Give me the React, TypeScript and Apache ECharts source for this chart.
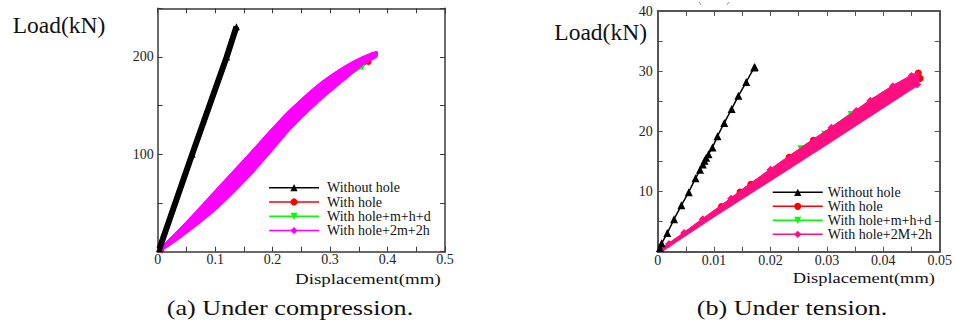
import React, { useEffect, useRef } from 'react';
import * as echarts from 'echarts';

const FONT = 'Liberation Serif';

// ---------- (a) Under compression ----------
const compNames = ['Without hole', 'With hole', 'With hole+m+h+d', 'With hole+2m+2h'];
const compWithoutHole: number[][] = [[0.003, 3], [0.06, 100], [0.12, 200], [0.137, 231]];
const compWithHole: number[][] = [[0.006, 1.5], [0.103, 55], [0.201, 118], [0.277, 162], [0.367, 195]];
const compHoleMHD: number[][] = [[0.006, 1.5], [0.103, 55], [0.201, 117], [0.277, 160], [0.356, 189.5]];
const compBandUpper: number[][] = [
  [0.001, 1], [0.045, 27], [0.103, 64], [0.161, 101], [0.201, 127], [0.23, 145],
  [0.277, 170], [0.323, 189], [0.358, 200], [0.381, 205],
];
const compBandLower: number[][] = [
  [0.381, 201], [0.358, 193], [0.323, 176], [0.277, 153], [0.23, 126], [0.201, 106],
  [0.161, 79], [0.103, 45], [0.045, 17.5], [0.004, 0.5],
];

// ---------- (b) Under tension ----------
const tensNames = ['Without hole', 'With hole', 'With hole+m+h+d', 'With hole+2M+2h'];
const tensWithoutHole: number[][] = [
  [0.0004, 0.6], [0.0007, 1.4], [0.0017, 3.1], [0.0029, 5.4], [0.0042, 7.7], [0.0055, 9.9],
  [0.0067, 12.2], [0.0075, 13.6], [0.008, 14.5], [0.0083, 15.1], [0.0086, 15.6],
  [0.009, 16.2], [0.0097, 17.3], [0.0106, 19.2], [0.0118, 21.4], [0.0131, 23.7],
  [0.0143, 25.9], [0.0157, 28.2], [0.0171, 30.6], [0.0172, 30.7],
];
const tensWithHole: number[][] = [
  [0.0113, 7.5], [0.0146, 9.9], [0.0165, 11.2], [0.0233, 15.7], [0.0276, 18.5],
  [0.0462, 29.7], [0.0465, 28.8],
];
const tensHoleMHD: number[][] = [[0.0253, 17.2], [0.0295, 19.6], [0.0342, 22.9], [0.045, 29.1]];
const tensHole2M2h: number[][] = [
  [0.0007, 0.4], [0.002, 1.3], [0.0047, 3.1], [0.008, 5.4], [0.013, 8.8], [0.02, 13.6],
  [0.0308, 20.6], [0.0352, 23.4], [0.0377, 25.1], [0.0417, 27.5], [0.045, 29.2], [0.046, 27.8],
];
const tensBandUpper: number[][] = [
  [0.0007, 0.4], [0.002, 1.3], [0.0047, 3.1], [0.008, 5.4], [0.0113, 7.6], [0.013, 8.8],
  [0.0146, 10], [0.0165, 11.3], [0.02, 13.6], [0.0233, 15.8], [0.0276, 18.6], [0.0308, 20.6],
  [0.0352, 23.4], [0.0377, 25.1], [0.0417, 27.5], [0.045, 29.2], [0.0462, 29.8],
];
const tensBandLower: number[][] = [
  [0.0462, 27.8], [0.04, 24.0], [0.03, 17.9], [0.02, 11.9], [0.01, 5.9], [0.005, 2.8], [0.001, 0.3],
];

const MAGENTA = '#ff00ff';
const PINK = '#ff0f80';
const RED = '#ff0000';
const GREEN = '#00ff00';

function axisPair(grid: number, min: number, max: number, interval: number, fmt: (v: number) => string,
  color: string, width: number, margin: number, isX: boolean) {
  const common = {
    type: 'value', gridIndex: grid, min, max, interval, splitLine: { show: false },
    axisLine: { show: true, onZero: false, lineStyle: { color, width } },
    axisTick: { show: true, inside: true, length: 5, lineStyle: { color, width: 1 } },
  };
  return [
    {
      ...common, position: isX ? 'bottom' : 'left',
      axisLabel: { show: true, margin, formatter: fmt, fontFamily: FONT, fontSize: 14, color: '#222' },
    },
    { ...common, position: isX ? 'top' : 'right', axisLabel: { show: false } },
  ];
}

function bandSeries(name: string, upper: number[][], lower: number[][], color: string, xi: number, yi: number, smooth: number) {
  return {
    type: 'custom', name, coordinateSystem: 'cartesian2d', xAxisIndex: xi, yAxisIndex: yi,
    silent: true, data: [upper[0]], z: 3,
    renderItem: (_p: any, api: any) => ({
      type: 'polygon',
      shape: { points: upper.concat(lower).map((p) => api.coord(p)), smooth },
      style: { fill: color, stroke: color, lineWidth: 2 },
    }),
  };
}

function legendFor(names: string[], left: number, top: number, fontSize: number, lineHeight: number, gap: number, pad: number) {
  return {
    data: names, orient: 'vertical', left, top, itemWidth: 50, itemHeight: 9, itemGap: gap,
    selectedMode: false, lineStyle: { width: 1.5 }, z: 10,
    textStyle: { fontFamily: FONT, fontSize, lineHeight, color: '#111', padding: [0, 0, 0, pad] },
  };
}

export default function App() {
  const ref = useRef<HTMLDivElement>(null);
  useEffect(() => {
    const chart = echarts.init(ref.current!, null, { renderer: 'svg' });
    const xa = axisPair(0, 0, 0.5, 0.05, (v) => { const k = Math.round(v * 20); return k % 2 === 0 ? String(k / 20) : ''; }, '#3a3a3a', 1.5, 1, true);
    const ya = axisPair(0, 0, 250, 50, (v) => (v > 0 && v % 100 === 0 ? String(v) : ''), '#3a3a3a', 1.5, 4, false);
    const xb = axisPair(1, 0, 0.05, 0.005, (v) => { const k = Math.round(v * 200); return k % 2 === 0 ? String(k / 200) : ''; }, '#555', 2, 2, true);
    const yb = axisPair(1, 0, 40, 5, (v) => (v > 0 && Math.round(v) % 10 === 0 ? String(Math.round(v)) : ''), '#555', 2, 5, false);

    const txt = (text: string, x: number, y: number, size: number, align: string, scaleX = 1) => ({
      type: 'text', x, y, scaleX,
      style: { text, fontFamily: FONT, fontSize: size, fill: '#111', textAlign: align, textVerticalAlign: 'middle' },
    });

    const option: any = {
      animation: false,
      grid: [
        { left: 157.7, top: 8.3, right: 955 - 445, bottom: 321 - 251.7 },
        { left: 657.7, top: 11, right: 955 - 940, bottom: 321 - 251.7 },
      ],
      xAxis: [...xa, ...xb],
      yAxis: [...ya, ...yb],
      legend: [
        legendFor(compNames, 263.3, 175.7, 14, 13, 0.3, 3),
        legendFor(tensNames, 767, 180.3, 14, 14, 0, 0),
      ],
      series: [
        // (a)
        { type: 'line', name: 'With hole', xAxisIndex: 0, yAxisIndex: 0, data: compWithHole, symbol: 'circle', symbolSize: 6, z: 1,
          itemStyle: { color: RED }, lineStyle: { color: RED, width: 2 } },
        { type: 'line', name: 'With hole+m+h+d', xAxisIndex: 0, yAxisIndex: 0, data: compHoleMHD, symbol: 'triangle', symbolRotate: 180, symbolSize: 6, z: 2,
          itemStyle: { color: GREEN }, lineStyle: { color: GREEN, width: 2 } },
        bandSeries('band-a', compBandUpper, compBandLower, MAGENTA, 0, 0, 0.25),
        { type: 'line', name: 'With hole+2m+2h', xAxisIndex: 0, yAxisIndex: 0, data: compBandUpper.concat(compBandLower), symbol: 'diamond', symbolSize: 6,
          showSymbol: false, smooth: 0.25, z: 4, itemStyle: { color: MAGENTA }, lineStyle: { color: MAGENTA, width: 2 } },
        { type: 'line', name: 'Without hole', xAxisIndex: 0, yAxisIndex: 0, data: compWithoutHole, symbol: 'triangle', symbolSize: 7, z: 5,
          itemStyle: { color: '#000' }, lineStyle: { color: '#000', width: 6 } },
        // (b)
        { type: 'line', name: 'With hole', xAxisIndex: 2, yAxisIndex: 2, data: tensWithHole, symbol: 'circle', symbolSize: 7, z: 1,
          itemStyle: { color: RED }, lineStyle: { color: RED, width: 2 } },
        { type: 'line', name: 'With hole+m+h+d', xAxisIndex: 2, yAxisIndex: 2, data: tensHoleMHD, symbol: 'triangle', symbolRotate: 180, symbolSize: 6, z: 2,
          itemStyle: { color: GREEN }, lineStyle: { color: GREEN, width: 2 } },
        bandSeries('band-b', tensBandUpper, tensBandLower, PINK, 2, 2, 0),
        { type: 'line', name: 'With hole+2M+2h', xAxisIndex: 2, yAxisIndex: 2, data: tensHole2M2h, symbol: 'diamond', symbolSize: 8, z: 4,
          itemStyle: { color: PINK }, lineStyle: { color: PINK, width: 2 } },
        { type: 'line', name: 'Without hole', xAxisIndex: 2, yAxisIndex: 2, data: tensWithoutHole, symbol: 'triangle', symbolSize: 8, z: 5,
          itemStyle: { color: '#000' }, lineStyle: { color: '#000', width: 1.5 } },
      ],
      graphic: [
        txt('Load(kN)', 12.7, 25, 23.5, 'left'),
        txt('Load(kN)', 647, 32, 23.5, 'right'),
        txt('Displacement(mm)', 295, 279, 15.5, 'left', 1.22),
        txt('Displacement(mm)', 792.7, 278.3, 15.5, 'left', 1.19),
        txt('(a) Under compression.', 166.7, 308, 20.5, 'left', 1.278),
        txt('(b) Under tension.', 696.7, 308, 20.5, 'left', 1.274),
        { type: 'line', shape: { x1: 699, y1: 2, x2: 701, y2: 5 }, style: { stroke: '#999', lineWidth: 1 } },
        { type: 'line', shape: { x1: 729, y1: 2, x2: 727, y2: 5 }, style: { stroke: '#999', lineWidth: 1 } },
      ],
    };
    chart.setOption(option);
    return () => chart.dispose();
  }, []);
  return <div ref={ref} style={{ position: 'fixed', left: 0, top: 0, width: 955, height: 321, background: '#fff' }} />;
}
